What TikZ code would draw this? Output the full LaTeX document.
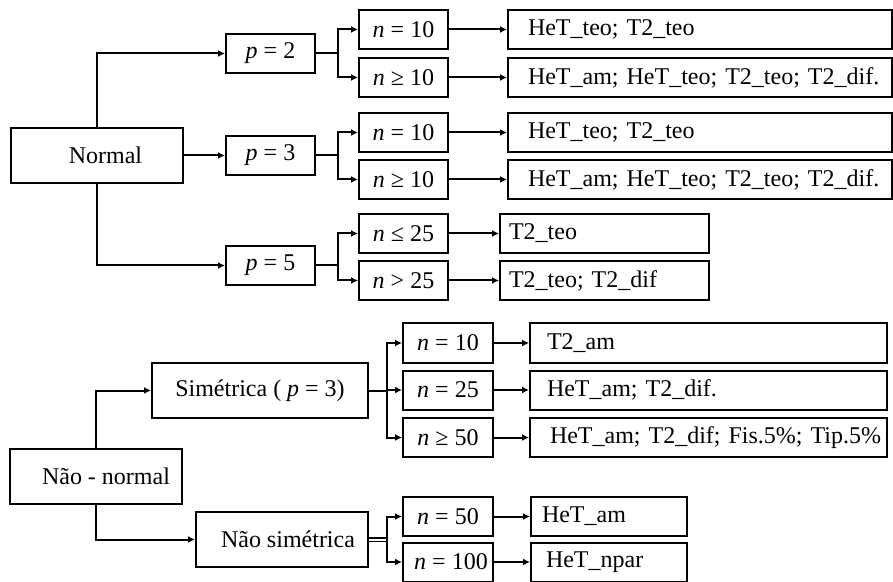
\documentclass[tikz,border=0pt]{standalone}
\usepackage{fontspec}
\setmainfont{Liberation Serif}
\usepackage{tikz}
\usetikzlibrary{arrows.meta,positioning}

\begin{document}
\begin{tikzpicture}[
      x=0.5pt, y=-0.5pt,
      font=\fontsize{12}{14}\selectfont,
      box/.style={draw, line width=1pt, inner sep=0pt, minimum height=19.5pt},
      root/.style={box, minimum width=86pt, minimum height=27.5pt},
      cond/.style={box, minimum width=44.5pt},
      res/.style 2 args={box, text width=#1, inner xsep=0pt, align=left,
                         execute at begin node={\hspace*{#2}}},
      line/.style={line width=1pt},
      arr/.style={line, -{Latex[length=3.5pt,width=3.5pt]}}]
    \useasboundingbox (0,0) rectangle (893,582);
    % normal branch
    \node[root] (normal) at (96.5,155.5) {\hspace{9pt}Normal};
    \node[cond] (p2) at (270.5,53.5) {\textit{p} = 2};
    \node[cond] (p3) at (270.5,155.5) {\textit{p} = 3};
    \node[cond] (p5) at (270.5,265.5) {\textit{p} = 5};
    \node[cond] (n2a) at (403.5,29.5) {\textit{n} = 10};
    \node[cond] (n2b) at (403.5,77.5) {\textit{n} ≥ 10};
    \node[cond] (n3a) at (403.5,132.5) {\textit{n} = 10};
    \node[cond] (n3b) at (403.5,179.5) {\textit{n} ≥ 10};
    \node[cond] (n5a) at (403.5,233.5) {\textit{n} ≤ 25};
    \node[cond] (n5b) at (403.5,280.5) {\textit{n} > 25};
    \node[res={191.75pt}{10pt}] (r2a) at (699.75,29.5) {HeT\_teo; T2\_teo};
    \node[res={191.75pt}{10pt}] (r2b) at (699.75,77.5) {\mbox{HeT\_am; HeT\_teo; T2\_teo; T2\_dif.}};
    \node[res={191.75pt}{10pt}] (r3a) at (699.75,132.5) {HeT\_teo; T2\_teo};
    \node[res={191.75pt}{10pt}] (r3b) at (699.75,179.5) {\mbox{HeT\_am; HeT\_teo; T2\_teo; T2\_dif.}};
    \node[res={104.5pt}{4.5pt}] (r5a) at (604.5,233.5) {T2\_teo};
    \node[res={104.5pt}{4.5pt}] (r5b) at (604.5,280.5) {T2\_teo; T2\_dif};
    \draw[arr] (normal.north) |- (p2.west);
    \draw[arr] (normal.east) -- (p3.west);
    \draw[arr] (normal.south) |- (p5.west);
    \foreach \p/\a/\b in {p2/n2a/n2b, p3/n3a/n3b, p5/n5a/n5b} {
      \draw[line] (\p.east) -- ++(22,0) coordinate (f\p);
      \draw[arr] (f\p) |- (\a.west);
      \draw[arr] (f\p) |- (\b.west);
    }
    \foreach \n/\r in {n2a/r2a, n2b/r2b, n3a/r3a, n3b/r3b, n5a/r5a, n5b/r5b}
      \draw[arr] (\n.east) -- (\r.west);
    % non-normal branch
    \node[root] (naonormal) at (96,476.5) {\hspace{10pt}Não - normal};
    \node[root, minimum width=108pt] (sim) at (260,390.5) {Simétrica ( \textit{p} = 3)};
    \node[root] (naosim) at (282,539.5) {\hspace{6pt}Não simétrica};
    \node[cond, minimum width=45pt] (nsa) at (448,343) {\textit{n} = 10};
    \node[cond, minimum width=45pt] (nsb) at (448,390) {\textit{n} = 25};
    \node[cond, minimum width=45pt] (nsc) at (448,437.5) {\textit{n} ≥ 50};
    \node[cond, minimum width=45pt] (nna) at (448,516.5) {\textit{n} = 50};
    \node[cond, minimum width=45pt] (nnb) at (448,562) {\hspace{3pt}\textit{n} = 100};
    \node[res={178.5pt}{8.5pt}] (rsa) at (708.5,343) {T2\_am};
    \node[res={178.5pt}{8.5pt}] (rsb) at (708.5,390) {HeT\_am; T2\_dif.};
    \node[res={178.5pt}{10pt}] (rsc) at (708.5,437.5) {\mbox{HeT\_am; T2\_dif; Fis.5\%; Tip.5\%}};
    \node[res={78pt}{5.5pt}] (rna) at (609,516.5) {HeT\_am};
    \node[res={78pt}{7.5pt}] (rnb) at (609,562) {HeT\_npar};
    \draw[arr] (naonormal.north) |- (sim.west);
    \draw[arr] (naonormal.south) |- (naosim.west);
    \draw[line] (sim.east) -- ++(18,0) coordinate (fsim);
    \foreach \n in {nsa, nsb, nsc}
      \draw[arr] (fsim) |- (\n.west);
    \draw[line, line width=0.7pt, double, double distance=1pt] (naosim.east) -- ++(18,0) coordinate (fnaosim);
    \draw[arr] (fnaosim) |- (nna.west);
    \draw[arr] (fnaosim) |- (nnb.west);
    \foreach \n/\r in {nsa/rsa, nsb/rsb, nsc/rsc, nna/rna, nnb/rnb}
      \draw[arr] (\n.east) -- (\r.west);
  \end{tikzpicture}
\end{document}
